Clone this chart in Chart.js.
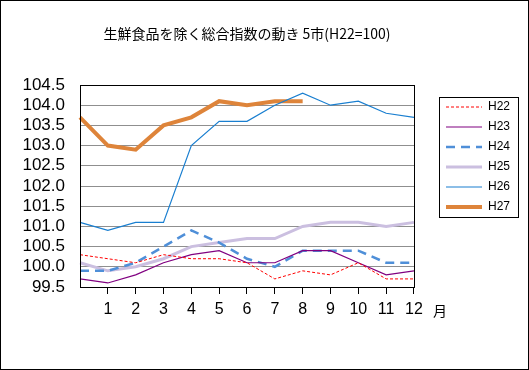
<!DOCTYPE html>
<html lang="ja">
<head>
<meta charset="utf-8">
<title>生鮮食品を除く総合指数の動き</title>
<script src="https://cdn.jsdelivr.net/npm/chart.js@4.4.0/dist/chart.umd.min.js"></script>
<style>
  html, body { margin: 0; padding: 0; background: #fff; }
  #wrap { width: 529px; height: 370px; }
</style>
</head>
<body>
<div id="wrap"><canvas id="graph" width="529" height="370"></canvas></div>
<script>
// x positions: first point is the previous December (no label), then months 1-12
const months = ['', '1', '2', '3', '4', '5', '6', '7', '8', '9', '10', '11', '12'];

const h22 = [100.3, 100.2, 100.1, 100.3, 100.2, 100.2, 100.1, 99.7, 99.9, 99.8, 100.1, 99.7, 99.7];
const h23 = [99.7, 99.6, 99.8, 100.1, 100.3, 100.4, 100.1, 100.1, 100.4, 100.4, 100.1, 99.8, 99.9];
const h24 = [99.9, 99.9, 100.1, 100.5, 100.9, 100.6, 100.2, 100.0, 100.4, 100.4, 100.4, 100.1, 100.1];
const h25 = [100.1, 99.9, 100.0, 100.2, 100.5, 100.6, 100.7, 100.7, 101.0, 101.1, 101.1, 101.0, 101.1];
const h26 = [101.1, 100.9, 101.1, 101.1, 103.0, 103.6, 103.6, 104.0, 104.3, 104.0, 104.1, 103.8, 103.7];
const h27 = [103.7, 103.0, 102.9, 103.5, 103.7, 104.1, 104.0, 104.1, 104.1];

const yMin = 99.5, yMax = 104.5, yStep = 0.5;
const chartTitle = '生鮮食品を除く総合指数の動き 5市(H22=100)';
const monthUnit = '月';

Chart.defaults.font.family = "'Liberation Sans', 'Noto Sans CJK JP', sans-serif";
Chart.defaults.color = '#000';

function series(label, data, color, width, dash) {
    return {
        label: label,
        data: data,
        borderColor: color,
        backgroundColor: color,
        borderWidth: width,
        borderDash: dash,
        pointRadius: 0,
        pointHoverRadius: 0,
        tension: 0,
        fill: false
    };
}

// legend sample: a short line in the dataset's own colour, width and dash
const sampleCache = {};
function sampleLine(ds) {
    if (sampleCache[ds.label]) return sampleCache[ds.label];
    const c = document.createElement('canvas');
    c.width = 36;
    c.height = 12;
    const g = c.getContext('2d');
    g.strokeStyle = ds.borderColor;
    g.lineWidth = ds.borderWidth;
    g.setLineDash(ds.borderDash || []);
    g.beginPath();
    g.moveTo(0, 6);
    g.lineTo(36, 6);
    g.stroke();
    sampleCache[ds.label] = c;
    return c;
}

// frame around the plot, box around the legend, page border and the 月 unit
const decorations = {
    id: 'decorations',
    afterDraw(chart) {
        const ctx = chart.ctx;
        const a = chart.chartArea;
        ctx.save();
        ctx.strokeStyle = '#000';
        ctx.lineWidth = 1;
        ctx.setLineDash([]);
        ctx.strokeRect(Math.round(a.left) + 0.5, Math.round(a.top) + 0.5,
            Math.round(a.right - a.left), Math.round(a.bottom - a.top));

        const hb = chart.legend.legendHitBoxes;
        if (hb && hb.length) {
            const first = hb[0], last = hb[hb.length - 1];
            const x0 = Math.round(first.left) - 7;
            const y0 = Math.round(first.top) - 4;
            const y1 = Math.round(last.top + last.height) + 4;
            ctx.strokeRect(x0 + 0.5, y0 + 0.5, 79, y1 - y0);
        }

        ctx.strokeRect(0.5, 0.5, chart.width - 1, chart.height - 1);

        ctx.fillStyle = '#000';
        ctx.font = "14px 'Noto Sans CJK JP', sans-serif";
        ctx.textAlign = 'center';
        ctx.textBaseline = 'middle';
        ctx.fillText(monthUnit, a.right + 26, a.bottom + 24);
        ctx.restore();
    }
};

new Chart(document.getElementById('graph'), {
    type: 'line',
    data: {
        labels: months,
        datasets: [
            series('H22', h22, '#ff0000', 1, [3, 2]),
            series('H23', h23, '#800080', 1.2, []),
            series('H24', h24, '#4f8fd8', 2.5, [9, 6]),
            series('H25', h25, '#cbbfe0', 3, []),
            series('H26', h26, '#1a7fd0', 1.2, []),
            series('H27', h27, '#de843a', 4, [])
        ]
    },
    options: {
        responsive: false,
        animation: false,
        layout: { padding: { left: 0, right: 9, top: 0, bottom: 0 } },
        plugins: {
            tooltip: { enabled: false },
            title: {
                display: true,
                fullSize: false,
                text: chartTitle,
                color: '#000',
                font: { family: "'Noto Sans CJK JP', sans-serif", size: 14, weight: 'normal', lineHeight: '17px' },
                padding: { top: 25, bottom: 43 }
            },
            legend: {
                display: true,
                position: 'right',
                align: 'start',
                title: { display: true, text: '', padding: { top: 81, bottom: 0 }, font: { size: 10, lineHeight: '12px' } },
                labels: {
                    usePointStyle: true,
                    pointStyleWidth: 36,
                    padding: 8,
                    color: '#000',
                    font: { size: 12 },
                    generateLabels(chart) {
                        const items = Chart.defaults.plugins.legend.labels.generateLabels(chart);
                        items.forEach((it) => {
                            it.pointStyle = sampleLine(chart.data.datasets[it.datasetIndex]);
                        });
                        return items;
                    }
                }
            }
        },
        scales: {
            x: {
                offset: false,
                afterFit(s) { s.height = 83; },
                ticks: { autoSkip: false, maxRotation: 0, padding: 6, font: { size: 16 }, color: '#000' },
                grid: {
                    drawOnChartArea: false,
                    drawTicks: true,
                    tickLength: 7,
                    color: (c) => c.index === 0 ? 'rgba(0,0,0,0)' : '#000'
                },
                border: { display: false }
            },
            y: {
                min: yMin,
                max: yMax,
                afterFit(s) { s.width = 80; },
                ticks: {
                    stepSize: yStep,
                    autoSkip: false,
                    padding: 15,
                    font: { size: 17 },
                    color: '#000',
                    callback: (v) => Number(v).toFixed(1)
                },
                grid: { color: '#8f8f8f', drawTicks: false },
                border: { display: false }
            },
            y2: {
                position: 'right',
                afterFit(s) { s.width = 24; },
                ticks: { display: false },
                grid: { display: false, drawTicks: false },
                border: { display: false }
            }
        }
    },
    plugins: [decorations]
});
</script>
</body>
</html>
